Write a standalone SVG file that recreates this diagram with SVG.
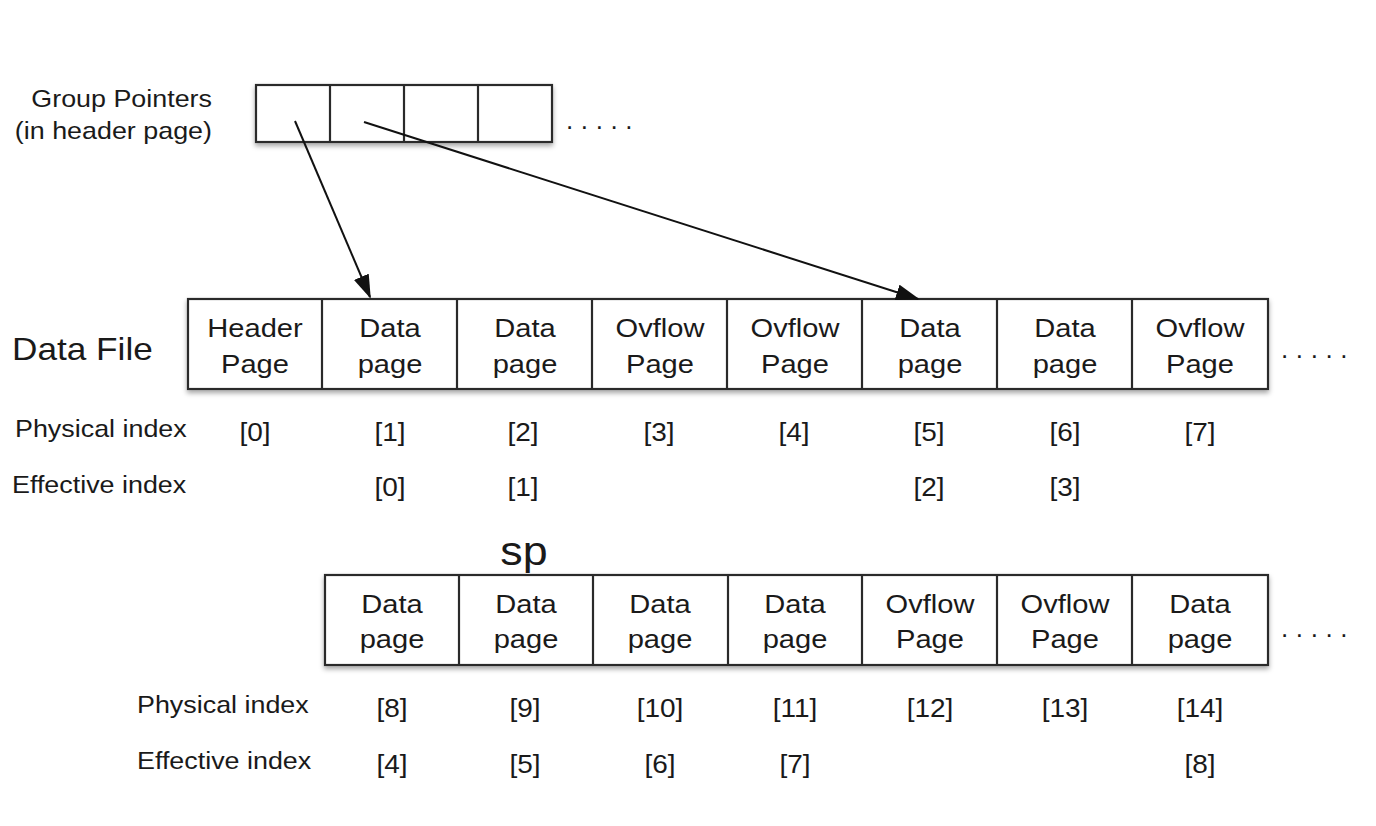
<svg xmlns="http://www.w3.org/2000/svg" width="1376" height="826" viewBox="0 0 1376 826">
<defs>
<filter id="sh" x="-5%" y="-20%" width="110%" height="150%">
<feDropShadow dx="0" dy="3" stdDeviation="2.5" flood-color="#000" flood-opacity="0.35"/>
</filter>
<marker id="ah" markerWidth="24" markerHeight="16" refX="22" refY="8" orient="auto" markerUnits="userSpaceOnUse">
<path d="M0,0 L24,8 L0,16 Z" fill="#111"/>
</marker>
<style>
.box{fill:#fff;stroke:#2a2a2a;stroke-width:2.2}
.div{stroke:#2a2a2a;stroke-width:2.2}
text{font-family:"Liberation Sans",Arial,sans-serif;fill:#1a1a1a}
.cell{font-size:26px;text-anchor:middle}
.idx{font-size:25px;text-anchor:middle}
.lbl{font-size:24px}
.dots{font-size:26px;letter-spacing:7.6px}
.conn{stroke:#111;stroke-width:2;fill:none}
</style>
</defs>
<rect width="1376" height="826" fill="#fff"/>

<g id="group-pointers">
<text class="lbl" transform="translate(212,107) scale(1.12,1)" text-anchor="end">Group Pointers</text>
<text class="lbl" transform="translate(212,139) scale(1.12,1)" text-anchor="end">(in header page)</text>
<rect class="box" x="256" y="85" width="296" height="57" filter="url(#sh)"/>
<line class="div" x1="330" y1="85" x2="330" y2="142"/>
<line class="div" x1="404" y1="85" x2="404" y2="142"/>
<line class="div" x1="478" y1="85" x2="478" y2="142"/>
<text class="dots" x="566" y="129">.....</text>
</g>

<g id="data-file">
<text transform="translate(12,360) scale(1.1,1)" font-size="32">Data File</text>
<rect class="box" x="188" y="299" width="1080" height="90" filter="url(#sh)"/>
<line class="div" x1="322" y1="299" x2="322" y2="389"/>
<line class="div" x1="457" y1="299" x2="457" y2="389"/>
<line class="div" x1="592" y1="299" x2="592" y2="389"/>
<line class="div" x1="727" y1="299" x2="727" y2="389"/>
<line class="div" x1="862" y1="299" x2="862" y2="389"/>
<line class="div" x1="997" y1="299" x2="997" y2="389"/>
<line class="div" x1="1132" y1="299" x2="1132" y2="389"/>
<text class="cell" transform="translate(255,337) scale(1.12,1)">Header</text><text class="cell" transform="translate(255,373) scale(1.12,1)">Page</text>
<text class="cell" transform="translate(390,337) scale(1.12,1)">Data</text><text class="cell" transform="translate(390,373) scale(1.12,1)">page</text>
<text class="cell" transform="translate(525,337) scale(1.12,1)">Data</text><text class="cell" transform="translate(525,373) scale(1.12,1)">page</text>
<text class="cell" transform="translate(660,337) scale(1.12,1)">Ovflow</text><text class="cell" transform="translate(660,373) scale(1.12,1)">Page</text>
<text class="cell" transform="translate(795,337) scale(1.12,1)">Ovflow</text><text class="cell" transform="translate(795,373) scale(1.12,1)">Page</text>
<text class="cell" transform="translate(930,337) scale(1.12,1)">Data</text><text class="cell" transform="translate(930,373) scale(1.12,1)">page</text>
<text class="cell" transform="translate(1065,337) scale(1.12,1)">Data</text><text class="cell" transform="translate(1065,373) scale(1.12,1)">page</text>
<text class="cell" transform="translate(1200,337) scale(1.12,1)">Ovflow</text><text class="cell" transform="translate(1200,373) scale(1.12,1)">Page</text>
<text class="dots" x="1281" y="358">.....</text>
</g>

<g id="data-file-indexes">
<text class="lbl" transform="translate(15,437) scale(1.12,1)">Physical index</text>
<text class="idx" transform="translate(255,441) scale(1.12,1)">[0]</text>
<text class="idx" transform="translate(390,441) scale(1.12,1)">[1]</text>
<text class="idx" transform="translate(523,441) scale(1.12,1)">[2]</text>
<text class="idx" transform="translate(659,441) scale(1.12,1)">[3]</text>
<text class="idx" transform="translate(794,441) scale(1.12,1)">[4]</text>
<text class="idx" transform="translate(929,441) scale(1.12,1)">[5]</text>
<text class="idx" transform="translate(1065,441) scale(1.12,1)">[6]</text>
<text class="idx" transform="translate(1200,441) scale(1.12,1)">[7]</text>
<text class="lbl" transform="translate(12,493) scale(1.12,1)">Effective index</text>
<text class="idx" transform="translate(390,496) scale(1.12,1)">[0]</text>
<text class="idx" transform="translate(523,496) scale(1.12,1)">[1]</text>
<text class="idx" transform="translate(929,496) scale(1.12,1)">[2]</text>
<text class="idx" transform="translate(1065,496) scale(1.12,1)">[3]</text>
</g>

<g id="second-row">
<text transform="translate(524,565) scale(1.12,1)" font-size="40" text-anchor="middle">sp</text>
<rect class="box" x="325" y="575" width="943" height="90" filter="url(#sh)"/>
<line class="div" x1="459" y1="575" x2="459" y2="665"/>
<line class="div" x1="593" y1="575" x2="593" y2="665"/>
<line class="div" x1="728" y1="575" x2="728" y2="665"/>
<line class="div" x1="862" y1="575" x2="862" y2="665"/>
<line class="div" x1="997" y1="575" x2="997" y2="665"/>
<line class="div" x1="1132" y1="575" x2="1132" y2="665"/>
<text class="cell" transform="translate(392,613) scale(1.12,1)">Data</text><text class="cell" transform="translate(392,648) scale(1.12,1)">page</text>
<text class="cell" transform="translate(526,613) scale(1.12,1)">Data</text><text class="cell" transform="translate(526,648) scale(1.12,1)">page</text>
<text class="cell" transform="translate(660,613) scale(1.12,1)">Data</text><text class="cell" transform="translate(660,648) scale(1.12,1)">page</text>
<text class="cell" transform="translate(795,613) scale(1.12,1)">Data</text><text class="cell" transform="translate(795,648) scale(1.12,1)">page</text>
<text class="cell" transform="translate(930,613) scale(1.12,1)">Ovflow</text><text class="cell" transform="translate(930,648) scale(1.12,1)">Page</text>
<text class="cell" transform="translate(1065,613) scale(1.12,1)">Ovflow</text><text class="cell" transform="translate(1065,648) scale(1.12,1)">Page</text>
<text class="cell" transform="translate(1200,613) scale(1.12,1)">Data</text><text class="cell" transform="translate(1200,648) scale(1.12,1)">page</text>
<text class="dots" x="1281" y="637">.....</text>
</g>

<g id="second-row-indexes">
<text class="lbl" transform="translate(137,713) scale(1.12,1)">Physical index</text>
<text class="idx" transform="translate(392,717) scale(1.12,1)">[8]</text>
<text class="idx" transform="translate(525,717) scale(1.12,1)">[9]</text>
<text class="idx" transform="translate(660,717) scale(1.12,1)">[10]</text>
<text class="idx" transform="translate(795,717) scale(1.12,1)">[11]</text>
<text class="idx" transform="translate(930,717) scale(1.12,1)">[12]</text>
<text class="idx" transform="translate(1065,717) scale(1.12,1)">[13]</text>
<text class="idx" transform="translate(1200,717) scale(1.12,1)">[14]</text>
<text class="lbl" transform="translate(137,769) scale(1.12,1)">Effective index</text>
<text class="idx" transform="translate(392,773) scale(1.12,1)">[4]</text>
<text class="idx" transform="translate(525,773) scale(1.12,1)">[5]</text>
<text class="idx" transform="translate(660,773) scale(1.12,1)">[6]</text>
<text class="idx" transform="translate(795,773) scale(1.12,1)">[7]</text>
<text class="idx" transform="translate(1200,773) scale(1.12,1)">[8]</text>
</g>

<g id="connectors">
<line class="conn" x1="295" y1="121" x2="370" y2="297" marker-end="url(#ah)"/>
<line class="conn" x1="364" y1="122" x2="918" y2="299" marker-end="url(#ah)"/>
</g>
</svg>
